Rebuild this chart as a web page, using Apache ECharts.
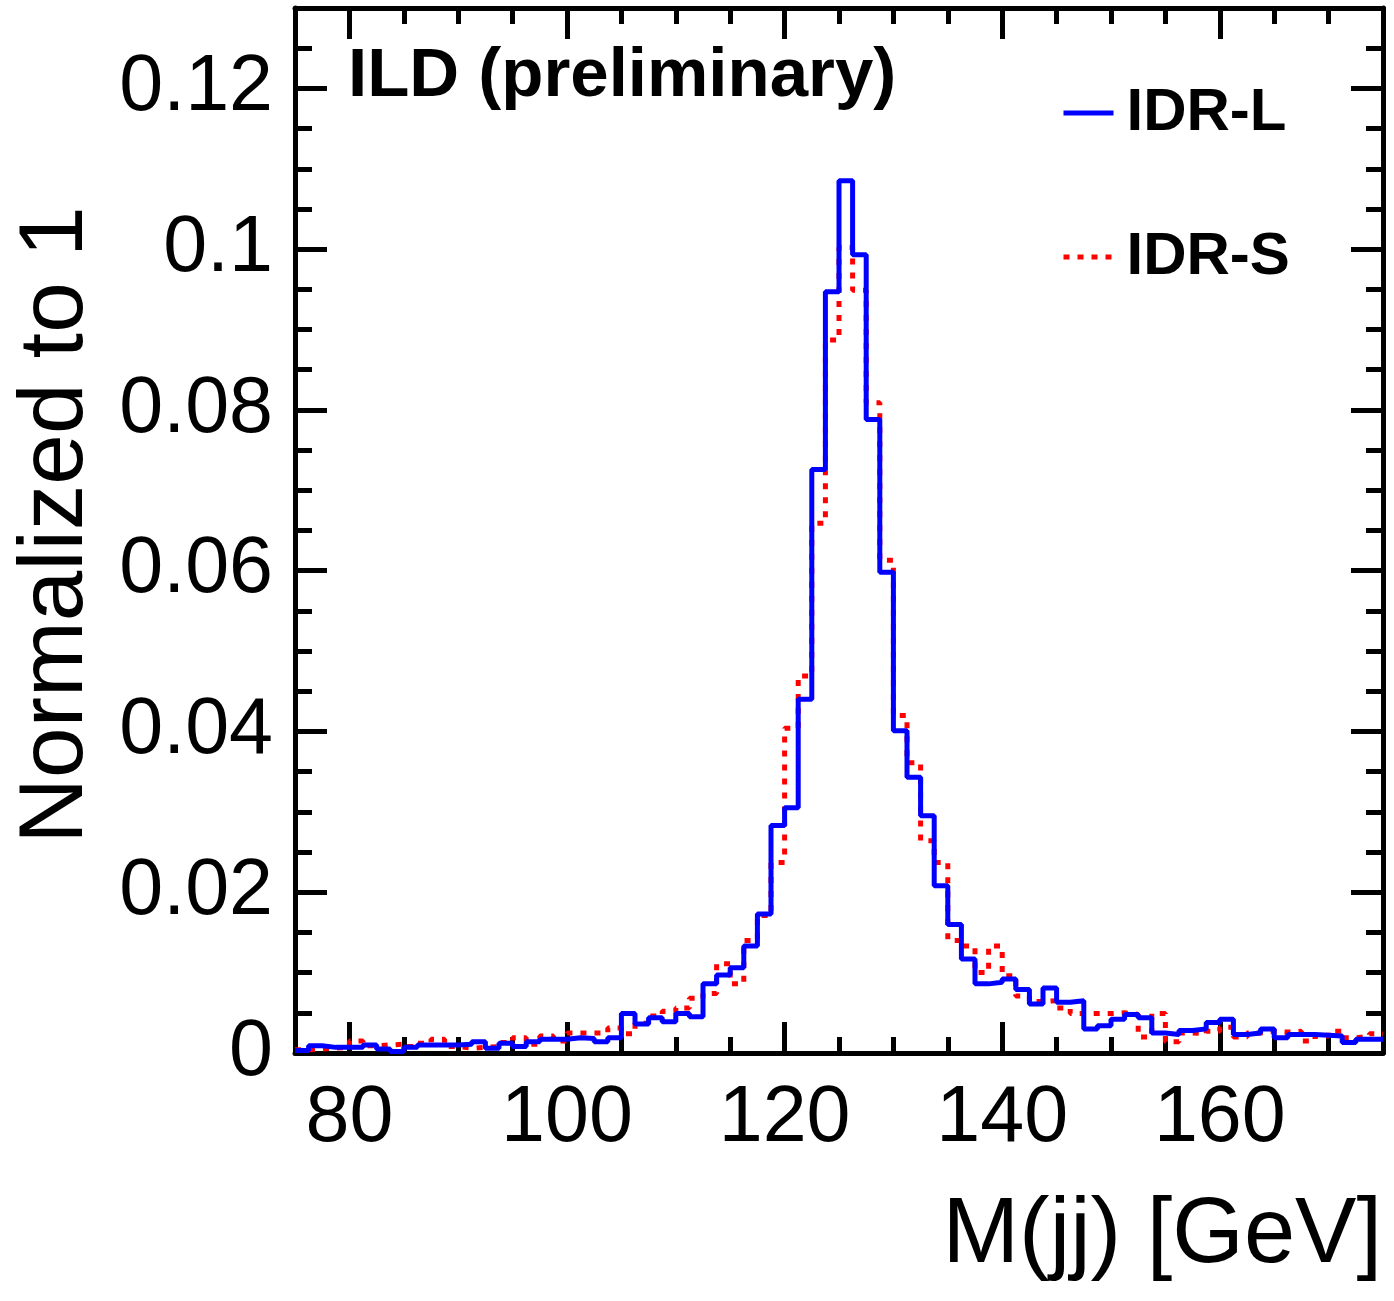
<!DOCTYPE html>
<html>
<head>
<meta charset="utf-8">
<script src="https://cdn.jsdelivr.net/npm/echarts@6/dist/echarts.min.js"></script>
<style>
html,body{margin:0;padding:0;background:#fff;}
#chart{width:1394px;height:1301px;}
</style>
</head>
<body>
<div id="chart"></div>
<script>
// ---- data ----
const xMin = 75, xMax = 175, binWidth = 1.25;
const yMin = 0, yMax = 0.13;
const seriesNames = ['IDR-L', 'IDR-S'];
const idrL = [
  0.0003, 0.0009, 0.0007, 0.0007, 0.0007, 0.0010, 0.0005, 0.0002, 0.0007, 0.0010,
  0.0010, 0.0010, 0.0011, 0.0014, 0.0006, 0.0012, 0.0008, 0.0014, 0.0017, 0.0017,
  0.0019, 0.0018, 0.0014, 0.0019, 0.0049, 0.0036, 0.0044, 0.0039, 0.0049, 0.0045,
  0.0086, 0.0097, 0.0106, 0.0133, 0.0173, 0.0283, 0.0305, 0.0440, 0.0726, 0.0947,
  0.1085, 0.0993, 0.0788, 0.0598, 0.0401, 0.0343, 0.0295, 0.0208, 0.0160, 0.0117,
  0.0086, 0.0088, 0.0092, 0.0079, 0.0061, 0.0081, 0.0063, 0.0065, 0.0030, 0.0034,
  0.0042, 0.0048, 0.0044, 0.0025, 0.0023, 0.0028, 0.0030, 0.0038, 0.0042, 0.0023,
  0.0025, 0.0030, 0.0019, 0.0023, 0.0023, 0.0022, 0.0021, 0.0013, 0.0017, 0.0017
];
const idrS = [
  0.0004, 0.0005, 0.0006, 0.0007, 0.0015, 0.0009, 0.0010, 0.0011, 0.0008, 0.0012,
  0.0017, 0.0008, 0.0006, 0.0007, 0.0008, 0.0013, 0.0019, 0.0011, 0.0021, 0.0015,
  0.0025, 0.0025, 0.0025, 0.0031, 0.0024, 0.0037, 0.0046, 0.0052, 0.0056, 0.0068,
  0.0074, 0.0111, 0.0086, 0.0140, 0.0171, 0.0237, 0.0404, 0.0469, 0.0659, 0.0887,
  0.1002, 0.0949, 0.0809, 0.0613, 0.0420, 0.0361, 0.0264, 0.0237, 0.0140, 0.0133,
  0.0100, 0.0133, 0.0096, 0.0071, 0.0064, 0.0065, 0.0056, 0.0049, 0.0049, 0.0049,
  0.0050, 0.0048, 0.0020, 0.0049, 0.0014, 0.0025, 0.0024, 0.0027, 0.0032, 0.0020,
  0.0025, 0.0027, 0.0026, 0.0027, 0.0015, 0.0021, 0.0027, 0.0019, 0.0021, 0.0024
];
const xMajorTicks = [80, 100, 120, 140, 160];
const xMinorTicks = [75, 85, 90, 95, 105, 110, 115, 125, 130, 135, 145, 150, 155, 165, 170, 175];
const yMajorTicks = [0, 0.02, 0.04, 0.06, 0.08, 0.1, 0.12];
const yMinorTicks = [0.005, 0.01, 0.015, 0.025, 0.03, 0.035, 0.045, 0.05, 0.055, 0.065, 0.07, 0.075,
                     0.085, 0.09, 0.095, 0.105, 0.11, 0.115, 0.125];
const xTitle = 'M(jj) [GeV]';
const yTitle = 'Normalized to 1';
const plotLabel = 'ILD (preliminary)';

// ---- build histogram step points from bins ----
function stepPoints(vals) {
  const pts = vals.map((v, i) => [xMin + i * binWidth, v]);
  pts.push([xMin + vals.length * binWidth, vals[vals.length - 1]]);
  return pts;
}

const FONT = 'Liberation Sans, Arial, Helvetica, sans-serif';
const LW = 5;

function xAxisDef(position, ticks, len, showLine, showLabel) {
  return {
    type: 'value', position: position, min: xMin, max: xMax,
    axisLine: {show: showLine, onZero: false, lineStyle: {color: '#000', width: LW}},
    axisTick: {show: true, inside: true, length: len, customValues: ticks, lineStyle: {color: '#000', width: LW}},
    axisLabel: showLabel ? {show: true, customValues: ticks, margin: 27, color: '#000', fontSize: 79, fontFamily: FONT} : {show: false},
    splitLine: {show: false}
  };
}
function yAxisDef(position, ticks, len, showLine, showLabel) {
  return {
    type: 'value', position: position, min: yMin, max: yMax,
    axisLine: {show: showLine, onZero: false, lineStyle: {color: '#000', width: LW}},
    axisTick: {show: true, inside: true, length: len, customValues: ticks, lineStyle: {color: '#000', width: LW}},
    axisLabel: showLabel ? {show: true, customValues: ticks, margin: 22, color: '#000', fontSize: 79, fontFamily: FONT,
      formatter: v => String(parseFloat(Number(v).toFixed(3)))} : {show: false},
    splitLine: {show: false}
  };
}

const chart = echarts.init(document.getElementById('chart'), null, {renderer: 'canvas'});
chart.setOption({
  animation: false,
  backgroundColor: '#fff',
  grid: {left: 295, right: 11, top: 8, bottom: 248, containLabel: false},
  xAxis: [
    xAxisDef('bottom', xMajorTicks, 31, true, true),
    xAxisDef('bottom', xMinorTicks, 16, false, false),
    xAxisDef('top', xMajorTicks, 31, true, false),
    xAxisDef('top', xMinorTicks, 16, false, false)
  ],
  yAxis: [
    yAxisDef('left', yMajorTicks, 32, true, true),
    yAxisDef('left', yMinorTicks, 17, false, false),
    yAxisDef('right', yMajorTicks, 32, true, false),
    yAxisDef('right', yMinorTicks, 17, false, false)
  ],
  legend: {
    orient: 'vertical', left: 1056, top: 78,
    data: seriesNames,
    itemWidth: 50, itemHeight: 20, itemGap: 84,
    itemStyle: {opacity: 0},
    lineStyle: {width: LW},
    textStyle: {fontSize: 60, fontWeight: 'bold', fontFamily: FONT, color: '#000', lineHeight: 60, padding: [0, 0, 0, 8]}
  },
  series: [
    {
      name: seriesNames[1], type: 'line', step: 'end', data: stepPoints(idrS),
      xAxisIndex: 0, yAxisIndex: 0, symbol: 'none', z: 2,
      lineStyle: {color: '#ff0000', width: LW, type: [6, 8], cap: 'butt'},
      itemStyle: {color: '#ff0000'}
    },
    {
      name: seriesNames[0], type: 'line', step: 'end', data: stepPoints(idrL),
      xAxisIndex: 0, yAxisIndex: 0, symbol: 'none', z: 3,
      lineStyle: {color: '#0000ff', width: LW},
      itemStyle: {color: '#0000ff'}
    }
  ],
  graphic: [
    {type: 'text', left: 348, top: 42, style: {text: plotLabel, fontSize: 69, fontWeight: 'bold', fontFamily: FONT, fill: '#000'}},
    {type: 'text', x: 1382, y: 1237, style: {text: xTitle, fontSize: 92, fontFamily: FONT, fill: '#000', align: 'right', verticalAlign: 'middle'}},
    {type: 'text', x: 57, y: 525, rotation: Math.PI / 2, style: {text: yTitle, fontSize: 91, fontFamily: FONT, fill: '#000', align: 'center', verticalAlign: 'middle'}}
  ]
});
</script>
</body>
</html>
